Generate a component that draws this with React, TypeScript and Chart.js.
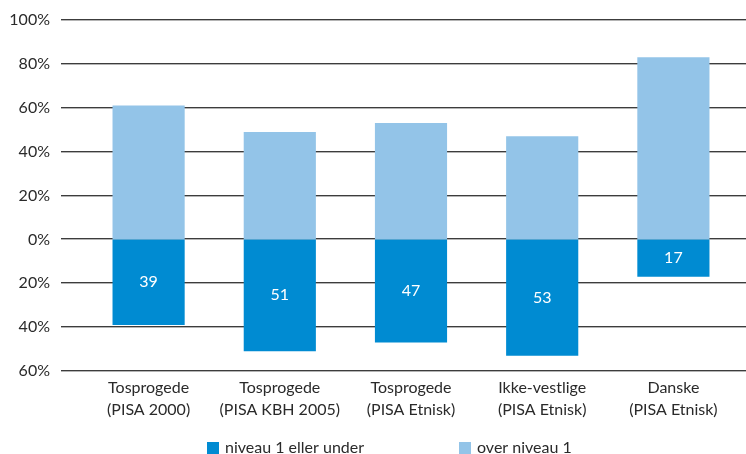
import React, { useEffect, useRef } from "react";
import { Chart, registerables } from "chart.js";

Chart.register(...registerables);

const categories: string[][] = [
  ["Tosprogede", "(PISA 2000)"],
  ["Tosprogede", "(PISA KBH 2005)"],
  ["Tosprogede", "(PISA Etnisk)"],
  ["Ikke-vestlige", "(PISA Etnisk)"],
  ["Danske", "(PISA Etnisk)"],
];
const niveauUnder: number[] = [39, 51, 47, 53, 17];
const overNiveau: number[] = [61, 49, 53, 47, 83];
const seriesNames = ["niveau 1 eller under", "over niveau 1"];
const yTicks = [-60, -40, -20, 0, 20, 40, 60, 80, 100];

const DARK = "#008bd2";
const LIGHT = "#93c4e8";
const FONT = "Lato";

const gridPlugin = {
  id: "fullGrid",
  beforeDatasetsDraw(chart: any) {
    const { ctx } = chart;
    const y = chart.scales.y;
    ctx.save();
    y.ticks.forEach((t: any) => {
      const py = Math.round(y.getPixelForValue(t.value));
      ctx.fillStyle = "#3c3c3c";
      ctx.fillRect(61, py - 1, 746 - 61, 1);
      ctx.fillStyle = "#b4b4b4";
      ctx.fillRect(61, py, 746 - 61, 1);
    });
    ctx.restore();
  },
};

const labelPlugin = {
  id: "barLabels",
  afterDatasetsDraw(chart: any) {
    const { ctx } = chart;
    const meta = chart.getDatasetMeta(0);
    ctx.save();
    ctx.fillStyle = "#ffffff";
    ctx.font = `16px ${FONT}`;
    ctx.textAlign = "center";
    ctx.textBaseline = "middle";
    meta.data.forEach((bar: any, i: number) => {
      const p = bar.getProps(["x", "y", "base"], true);
      ctx.fillText(String(niveauUnder[i]), p.x, (p.y + p.base) / 2);
    });
    ctx.restore();
  },
};

const legendPlugin = {
  id: "customLegend",
  afterDraw(chart: any) {
    const { ctx } = chart;
    const positions = [207, 459];
    ctx.save();
    ctx.font = `16px ${FONT}`;
    ctx.textBaseline = "middle";
    ctx.textAlign = "left";
    chart.data.datasets.forEach((ds: any, i: number) => {
      const x = positions[i];
      ctx.fillStyle = ds.backgroundColor;
      ctx.fillRect(x, 442, 12, 14);
      ctx.fillStyle = "#2a2a2a";
      ctx.fillText(ds.label, x + 18, 448);
    });
    ctx.restore();
  },
};

export default function App() {
  const ref = useRef<HTMLCanvasElement>(null);
  useEffect(() => {
    document.body.style.margin = "0";
    const chart = new Chart(ref.current!, {
      type: "bar",
      data: {
        labels: categories,
        datasets: [
          {
            label: seriesNames[0],
            data: niveauUnder.map((v) => -v),
            backgroundColor: DARK,
            categoryPercentage: 1,
            barPercentage: 0.55,
          },
          {
            label: seriesNames[1],
            data: overNiveau,
            backgroundColor: LIGHT,
            categoryPercentage: 1,
            barPercentage: 0.55,
          },
        ],
      },
      options: {
        animation: false,
        responsive: false,
        devicePixelRatio: 1,
        layout: { padding: { top: 20, right: 7, bottom: 0, left: 0 } },
        plugins: {
          legend: { display: false },
          tooltip: { enabled: false },
        },
        scales: {
          x: {
            stacked: true,
            grid: { display: false, drawTicks: false },
            border: { display: false },
            ticks: {
              color: "#2a2a2a",
              font: { family: FONT, size: 16, lineHeight: 1.375 },
              padding: 6,
              maxRotation: 0,
              autoSkip: false,
            },
            afterFit: (s: any) => {
              s.height = 83;
            },
          },
          y: {
            stacked: true,
            min: -60,
            max: 100,
            afterBuildTicks: (s: any) => {
              s.ticks = yTicks.map((v) => ({ value: v }));
            },
            grid: { display: false, drawTicks: false },
            border: { display: false },
            ticks: {
              color: "#2a2a2a",
              font: { family: FONT, size: 16 },
              padding: 33,
              callback: (v: any) => `${Math.abs(Number(v))}%`,
            },
            afterFit: (s: any) => {
              s.width = 83;
              s.paddingTop = 0;
              s.paddingBottom = 0;
            },
          },
        },
      },
      plugins: [gridPlugin, labelPlugin, legendPlugin],
    });
    return () => chart.destroy();
  }, []);
  return <canvas ref={ref} width={746} height={454} style={{ display: "block" }} />;
}
